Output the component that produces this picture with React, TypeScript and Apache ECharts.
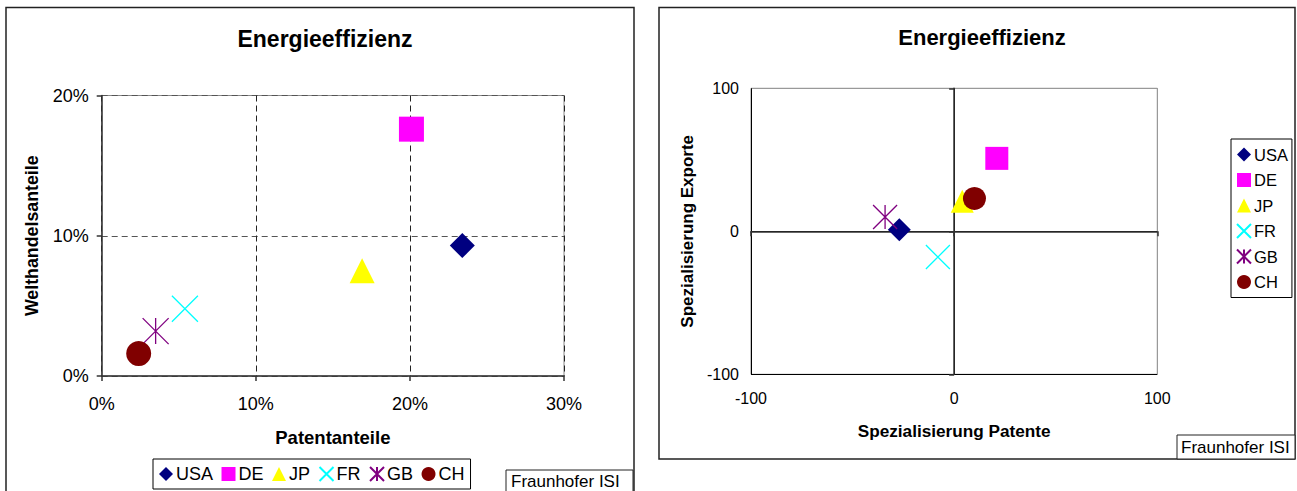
import React, { useEffect, useRef } from "react";
import * as echarts from "echarts";

const countries = ["USA", "DE", "JP", "FR", "GB", "CH"];
// left chart: shares in %
const patentShare = [23.4, 20.1, 16.9, 5.4, 3.5, 2.4];
const tradeShare = [9.3, 17.6, 7.5, 4.8, 3.2, 1.6];
// right chart: specialisation indices
const specPatents = [-27, 21, 4, -8, -34, 10];
const specExports = [1, 51, 21, -18, 10, 23];

const leftXTicks = [0, 10, 20, 30];
const leftYTicks = [0, 10, 20];
const rightTicks = [-100, 0, 100];

const colors = ["#000080", "#FF00FF", "#FFFF00", "#00FFFF", "#800080", "#800000"];
const X_PATH = "path://M0,0L10,10M10,0L0,10";
const STAR_PATH = "path://M0,0L10,10M10,0L0,10M5,0L5,10";
const symbols = ["diamond", "rect", "triangle", X_PATH, STAR_PATH, "circle"];
const stroked = [false, false, false, true, true, false];

const FONT = "'Liberation Sans', Arial, Helvetica, sans-serif";

export default function App() {
  const ref = useRef<HTMLDivElement>(null);

  useEffect(() => {
    document.body.style.margin = "0";
    if (!ref.current) return;
    const chart = echarts.init(ref.current, null, { renderer: "svg" });

    const makeSeries = (xs: number[], ys: number[], gi: number, size: number) =>
      countries.map((name, i) => ({
        type: "scatter",
        name,
        xAxisIndex: gi,
        yAxisIndex: gi,
        symbol: symbols[i],
        symbolSize: stroked[i] ? size + 1 : size,
        data: [[xs[i], ys[i]]],
        itemStyle: stroked[i]
          ? { color: "rgba(0,0,0,0)", borderColor: colors[i], borderWidth: 1.3, opacity: 1 }
          : { color: colors[i], opacity: 1 },
        emphasis: { disabled: true },
      }));

    const axisLine = { show: true, lineStyle: { color: "#333", width: 1.5 } };
    const axisTick = { show: true, inside: false, length: 5, lineStyle: { color: "#333", width: 1.5 } };
    const labelStyle = (fs: number) => ({ color: "#000", fontSize: fs, fontFamily: FONT });
    const nameStyle = (fs: number) => ({ color: "#000", fontSize: fs, fontWeight: "bold", fontFamily: FONT });

    const option = {
      animation: false,
      textStyle: { fontFamily: FONT },
      title: [
        {
          text: "Energieeffizienz",
          left: 320,
          top: 22,
          textAlign: "center",
          textStyle: { fontSize: 23, fontWeight: "bold", color: "#000", fontFamily: FONT },
        },
        {
          text: "Energieeffizienz",
          left: 977,
          top: 21,
          textAlign: "center",
          textStyle: { fontSize: 22, fontWeight: "bold", color: "#000", fontFamily: FONT },
        },
      ],
      grid: [
        { left: 101.7, top: 95.5, right: 1297 - 564, bottom: 491 - 376, show: true, borderColor: "#888", borderWidth: 1, containLabel: false },
        { left: 751, top: 88.3, right: 1297 - 1157.3, bottom: 491 - 374.3, show: true, borderColor: "#888", borderWidth: 1, containLabel: false },
      ],
      xAxis: [
        {
          type: "value",
          gridIndex: 0,
          min: leftXTicks[0],
          max: leftXTicks[leftXTicks.length - 1],
          interval: 10,
          axisLine,
          axisTick,
          axisLabel: { ...labelStyle(18), margin: 19, formatter: "{value}%" },
          splitLine: { show: true, lineStyle: { color: "#222", type: [6, 4], width: 1 } },
          name: "Patentanteile",
          nameLocation: "middle",
          nameGap: 52,
          nameTextStyle: nameStyle(18.5),
        },
        {
          type: "value",
          gridIndex: 1,
          min: rightTicks[0],
          max: rightTicks[rightTicks.length - 1],
          interval: 100,
          axisLine,
          axisTick,
          axisLabel: { ...labelStyle(16), margin: 16 },
          splitLine: { show: true, lineStyle: { color: ["#000", "#000", "#999"], width: 1 } },
          name: "Spezialisierung Patente",
          nameLocation: "middle",
          nameGap: 48,
          nameTextStyle: nameStyle(17.2),
        },
      ],
      yAxis: [
        {
          type: "value",
          gridIndex: 0,
          min: leftYTicks[0],
          max: leftYTicks[leftYTicks.length - 1],
          interval: 10,
          axisLine,
          axisTick,
          axisLabel: { ...labelStyle(18), margin: 13, formatter: "{value}%" },
          splitLine: { show: true, lineStyle: { color: "#555", type: [6, 4], width: 1 } },
          name: "Welthandelsanteile",
          nameLocation: "middle",
          nameGap: 61,
          nameRotate: 90,
          nameTextStyle: nameStyle(17.8),
        },
        {
          type: "value",
          gridIndex: 1,
          min: rightTicks[0],
          max: rightTicks[rightTicks.length - 1],
          interval: 100,
          axisLine,
          axisTick,
          axisLabel: { ...labelStyle(16), margin: 12 },
          splitLine: { show: true, lineStyle: { color: ["#000", "#000", "#999"], width: 1 } },
          name: "Spezialisierung Exporte",
          nameLocation: "middle",
          nameGap: 55,
          nameRotate: 90,
          nameTextStyle: nameStyle(17),
        },
      ],
      legend: [
        {
          data: countries,
          orient: "horizontal",
          left: 153,
          top: 459,
          itemWidth: 14,
          itemHeight: 14,
          itemGap: 8.5,
          padding: [6, 6, 6, 6],
          borderColor: "#000",
          borderWidth: 1,
          selectedMode: false,
          textStyle: { color: "#000", fontSize: 18, fontFamily: FONT, padding: [0, 0, 0, -2] },
        },
        {
          data: countries,
          orient: "vertical",
          left: 1231,
          top: 139,
          itemWidth: 14,
          itemHeight: 14,
          itemGap: 8.5,
          padding: [7, 4, 7, 5],
          borderColor: "#000",
          borderWidth: 1,
          selectedMode: false,
          textStyle: { color: "#000", fontSize: 16.5, fontFamily: FONT, padding: [0, 0, 0, -2] },
        },
      ],
      graphic: [
        { type: "rect", shape: { x: 6, y: 7.5, width: 628, height: 500 }, style: { fill: "none", stroke: "#222", lineWidth: 1.5 }, silent: true, z: 0 },
        { type: "rect", shape: { x: 659, y: 7.5, width: 636, height: 451.5 }, style: { fill: "none", stroke: "#222", lineWidth: 1.5 }, silent: true, z: 0 },
        { type: "rect", shape: { x: 506, y: 470, width: 127, height: 40 }, style: { fill: "#fff", stroke: "#222", lineWidth: 1 }, silent: true, z: 1 },
        { type: "text", x: 511, y: 481, style: { text: "Fraunhofer ISI", fontSize: 17, fontFamily: FONT, fill: "#000", verticalAlign: "middle" }, silent: true, z: 2 },
        { type: "rect", shape: { x: 1177, y: 435, width: 118, height: 24 }, style: { fill: "#fff", stroke: "#222", lineWidth: 1 }, silent: true, z: 1 },
        { type: "text", x: 1181, y: 447.5, style: { text: "Fraunhofer ISI", fontSize: 17, fontFamily: FONT, fill: "#000", verticalAlign: "middle" }, silent: true, z: 2 },
      ],
      series: [
        ...makeSeries(patentShare, tradeShare, 0, 25),
        ...makeSeries(specPatents, specExports, 1, 23),
      ],
    };

    chart.setOption(option as any);
    return () => chart.dispose();
  }, []);

  return <div ref={ref} style={{ width: 1297, height: 491 }} />;
}
